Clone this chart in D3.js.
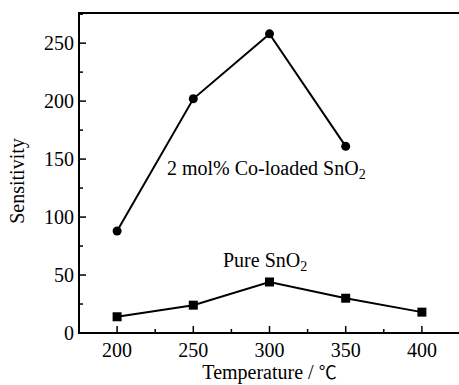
<!DOCTYPE html>
<html><head><meta charset="utf-8">
<script src="https://cdn.jsdelivr.net/npm/d3@7/dist/d3.min.js"></script>
<style>
body{margin:0;background:#fff;}
</style></head>
<body><svg id="c" width="459" height="385"></svg>
<script>
const temps = [200, 250, 300, 350, 400];
const coTemps = [200, 250, 300, 350];
const coLoaded = [88, 202, 258, 161];
const pure = [14, 24, 44, 30, 18];
const xTicks = [200, 250, 300, 350, 400];
const yTicks = [0, 50, 100, 150, 200, 250];

const FONT = "Liberation Serif, Times New Roman, Times, serif";
const svg = d3.select("#c").attr("font-family", FONT);
const L = 79, T = 13, R = 460, B = 333;
const x = d3.scaleLinear().domain([175, 425]).range([L, R]);
const y = d3.scaleLinear().domain([0, 276]).range([B, T]);

// frame (right side falls outside the picture, as in the reference)
svg.append("rect").attr("x", L).attr("y", T).attr("width", R - L + 6).attr("height", B - T)
  .attr("fill", "none").attr("stroke", "#000").attr("stroke-width", 2);

// x axis ticks (inward)
const xMinor = d3.range(175, 426, 25);
const gx = svg.append("g");
xMinor.forEach(v => {
  const major = xTicks.includes(v);
  gx.append("line").attr("x1", x(v)).attr("x2", x(v)).attr("y1", B).attr("y2", B - (major ? 7 : 4))
    .attr("stroke", "#000").attr("stroke-width", 1.5);
});
xTicks.forEach(v => {
  gx.append("text").attr("x", x(v)).attr("y", B + 24).attr("text-anchor", "middle")
    .attr("font-family", FONT).attr("font-size", 20).text(v);
});
// y axis ticks (inward)
const yMinor = d3.range(0, 276, 25);
const gy = svg.append("g");
yMinor.forEach(v => {
  const major = yTicks.includes(v);
  gy.append("line").attr("x1", L).attr("x2", L + (major ? 7 : 4)).attr("y1", y(v)).attr("y2", y(v))
    .attr("stroke", "#000").attr("stroke-width", 1.5);
});
yTicks.forEach(v => {
  gy.append("text").attr("x", L - 5).attr("y", y(v)).attr("dy", "0.34em").attr("text-anchor", "end")
    .attr("font-family", FONT).attr("font-size", 20).text(v);
});

// axis titles
svg.append("text").attr("transform", `translate(24,${(T + B) / 2 + 8}) rotate(-90)`)
  .attr("text-anchor", "middle").attr("font-family", FONT).attr("font-size", 20).text("Sensitivity");
const xt = svg.append("text").attr("x", (L + R) / 2).attr("y", 379).attr("text-anchor", "middle")
  .attr("font-family", FONT).attr("font-size", 20);
xt.append("tspan").text("Temperature / ");
xt.append("tspan").attr("font-family", "Noto Sans CJK SC").attr("font-size", 18).text("℃");

// lines
const line = d3.line().x(d => x(d[0])).y(d => y(d[1]));
const coData = coTemps.map((t, i) => [t, coLoaded[i]]);
const pureData = temps.map((t, i) => [t, pure[i]]);
svg.append("path").attr("d", line(coData)).attr("fill", "none").attr("stroke", "#000").attr("stroke-width", 2);
svg.append("path").attr("d", line(pureData)).attr("fill", "none").attr("stroke", "#000").attr("stroke-width", 2);
svg.selectAll(".dot").data(coData).enter().append("circle")
  .attr("cx", d => x(d[0])).attr("cy", d => y(d[1])).attr("r", 4.5).attr("fill", "#000");
svg.selectAll(".sq").data(pureData).enter().append("rect")
  .attr("x", d => x(d[0]) - 4.5).attr("y", d => y(d[1]) - 4.5).attr("width", 9).attr("height", 9).attr("fill", "#000");

// labels
const t1 = svg.append("text").attr("x", 167).attr("y", 175).attr("font-family", FONT).attr("font-size", 20);
t1.append("tspan").text("2 mol% Co-loaded SnO");
t1.append("tspan").attr("font-size", 14).attr("dy", 4).text("2");
const t2 = svg.append("text").attr("x", 223).attr("y", 267).attr("font-family", FONT).attr("font-size", 20);
t2.append("tspan").text("Pure SnO");
t2.append("tspan").attr("font-size", 14).attr("dy", 4).text("2");
</script></body></html>
